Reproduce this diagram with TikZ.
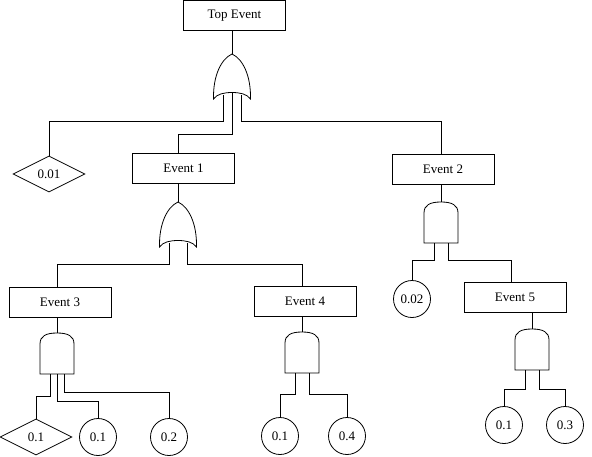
\documentclass[tikz,border=0pt]{standalone}
\usepackage{fontspec}
\setmainfont{Liberation Serif}
\usetikzlibrary{shapes.geometric}
\tikzset{
    event/.style={draw, rectangle, minimum width=102pt, minimum height=30pt, inner sep=0pt, font=\fontsize{13}{15}\selectfont},
    undev/.style={draw, diamond, aspect=2, minimum width=72pt, minimum height=36pt, inner sep=0pt, font=\fontsize{13}{15}\selectfont},
    basic/.style={draw, circle, minimum size=37pt, inner sep=0pt, font=\fontsize{13}{15}\selectfont},
    orgate/.pic={
        \draw (0,0) .. controls (-11,5) and (-19,22) .. (-18.5,45)
            .. controls (-15,40) and (-8,38.5) .. (0,38.5)
            .. controls (8,38.5) and (15,40) .. (18.5,45)
            .. controls (19,22) and (11,5) .. (0,0);
        \coordinate (-top) at (0,0);
        \coordinate (-l) at (-9,41);
        \coordinate (-m) at (0,38.5);
        \coordinate (-r) at (9,41);
    },
    andgate/.pic={
        \draw (-17,41) -- (-17,11) .. controls (-17,3) and (-11,0) .. (0,0)
            .. controls (11,0) and (17,3) .. (17,11) -- (17,41) -- cycle;
        \coordinate (-top) at (0,0);
        \coordinate (-l) at (-7,41);
        \coordinate (-m) at (0,41);
        \coordinate (-r) at (7,41);
    }
}

\begin{document}
\begin{tikzpicture}[x=1pt, y=-1pt, line width=0.8pt]
    \useasboundingbox (0,0) rectangle (592,456);

    \draw (234.5,15.5) node[event](top){Top Event};
    \draw (183.5,168) node[event](e1){Event 1};
    \draw (443,169) node[event](e2){Event 2};
    \draw (60,302) node[event](e3){Event 3};
    \draw (305,301.5) node[event](e4){Event 4};
    \draw (515,297) node[event](e5){Event 5};

    \draw (49,174) node[undev](u1){0.01};
    \draw (36,437) node[undev](u2){0.1};
    \draw (98,437) node[basic](b1){0.1};
    \draw (169,437) node[basic](b2){0.2};
    \draw (280,436) node[basic](b3){0.1};
    \draw (347,436) node[basic](b4){0.4};
    \draw (412,299) node[basic](b5){0.02};
    \draw (504,425) node[basic](b6){0.1};
    \draw (565,425) node[basic](b7){0.3};

    \pic (g0) at (232,54) {orgate};
    \pic (g1) at (178,202) {orgate};
    \pic (g2) at (441,202) {andgate};
    \pic (g3) at (57,333) {andgate};
    \pic (g4) at (302,332) {andgate};
    \pic (g5) at (532,329) {andgate};

    \draw (top.south -| g0-top) -- (g0-top);
    \draw (g0-l) -- ++(0,26) -| (u1);
    \draw (g0-m) -- ++(0,42) -| (e1.north -| g1-top);
    \draw (g0-r) -- ++(0,26) -| (e2.north -| g2-top);

    \draw (e1.south -| g1-top) -- (g1-top);
    \draw (g1-l) -- ++(0,21) -| (e3.north -| g3-top);
    \draw (g1-r) -- ++(0,21) -| (e4.north -| g4-top);

    \draw (e2.south -| g2-top) -- (g2-top);
    \draw (g2-l) -- ++(0,17) -| (b5);
    \draw (g2-r) -- ++(0,17) -| ([xshift=-4]e5.north);

    \draw (e3.south -| g3-top) -- (g3-top);
    \draw (g3-l) -- ++(0,22) -| (u2);
    \draw (g3-m) -- ++(0,27) -| (b1);
    \draw (g3-r) -- ++(0,18) -| (b2);

    \draw (e4.south -| g4-top) -- (g4-top);
    \draw (g4-l) -- ++(0,21) -| (b3);
    \draw (g4-r) -- ++(0,21) -| (b4);

    \draw (e5.south -| g5-top) -- (g5-top);
    \draw (g5-l) -- ++(0,19) -| (b6);
    \draw (g5-r) -- ++(0,19) -| (b7);
\end{tikzpicture}
\end{document}
